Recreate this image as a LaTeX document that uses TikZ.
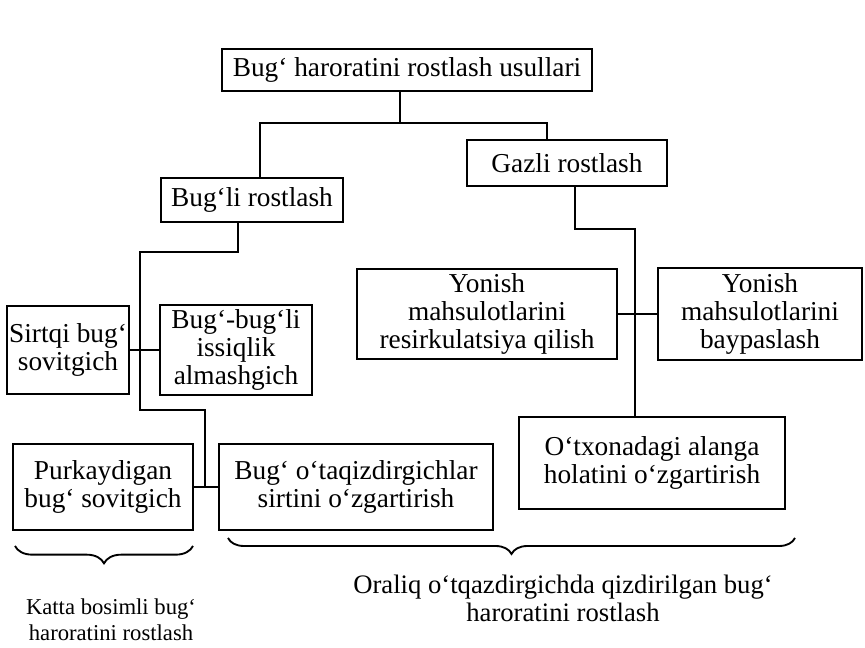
\documentclass[tikz,border=0pt]{standalone}
\usepackage{fontspec}
\setmainfont{Liberation Serif}
\usetikzlibrary{decorations.pathreplacing}

\tikzset{
  blok/.style={draw, line width=1.4pt, align=center, inner sep=1.5pt,
    font=\fontsize{20.5}{21}\selectfont},
  ulash/.style={line width=1.4pt},
  qavs/.style={line width=1.4pt, decorate, decoration={brace, mirror, amplitude=#1}},
  izoh/.style={align=center, inner sep=0pt}
}

\begin{document}
\begin{tikzpicture}[x=0.75pt,y=0.75pt,yscale=-1,xscale=1]
\useasboundingbox (0,0) rectangle (865,648);

% Nodes
\node [blok, minimum width=277.5pt, minimum height=31.5pt] (root) at (407,70) {Bug‘ haroratini rostlash usullari};
\node [blok, minimum width=137pt, minimum height=33pt] (bugli) at (252,200) {Bug‘li rostlash};
\node [blok, minimum width=150pt, minimum height=34pt] (gazli) at (567,163) {Gazli rostlash};
\node [blok, minimum width=82.5pt, minimum height=66pt] (sirtqi) at (68,350) {Sirtqi bug‘\\ sovitgich};
\node [blok, minimum width=114pt, minimum height=67.5pt] (bugbug) at (236,350) {Bug‘-bug‘li\\ issiqlik\\ almashgich};
\node [blok, minimum width=195pt, minimum height=67.5pt] (resirk) at (487,314) {Yonish\\ mahsulotlarini\\ resirkulatsiya qilish};
\node [blok, minimum width=153pt, minimum height=69pt] (baypas) at (760,314) {Yonish\\ mahsulotlarini\\ baypaslash};
\node [blok, minimum width=135pt, minimum height=64pt] (purka) at (103,487) {Purkaydigan\\ bug‘ sovitgich};
\node [blok, minimum width=205pt, minimum height=64.5pt] (sirtini) at (356,487) {Bug‘ o‘taqizdirgichlar\\ sirtini o‘zgartirish};
\node [blok, minimum width=199pt, minimum height=69pt] (otxona) at (652,463) {O‘txonadagi alanga\\ holatini o‘zgartirish};

% Connectors
\draw [ulash] ([xshift=-5.25pt]root.south) -- ++(0,31) coordinate (rsplit);
\draw [ulash] ([xshift=6pt]bugli.north) |- (rsplit) -| ([xshift=-15pt]gazli.north);

\coordinate (bk1) at (140,252);
\coordinate (bk2) at (140,410);
\coordinate (bk3) at (205,410);
\draw [ulash] ([xshift=-10.5pt]bugli.south) |- (bk1) -- (bk2) -- (bk3) -- (bk3 |- purka.east);
\draw [ulash] (sirtqi) -- (bugbug);
\draw [ulash] (purka) -- (sirtini);

\draw [ulash] ([xshift=6pt]gazli.south) -- ++(0,42.5) -| ([xshift=-12.75pt]otxona.north);
\draw [ulash] (resirk) -- (baypas);

% Braces
\draw [qavs=13pt] (15,546) -- (193,546);
\draw [qavs=12pt] (228,538) -- (795,538);

% Text Node
\node [izoh, font=\fontsize{17}{19.5}\selectfont] (katta) at (111,620) {Katta bosimli bug‘\\ haroratini rostlash};
% Text Node
\node [izoh, font=\fontsize{20}{21}\selectfont] (oraliq) at (563,598) {Oraliq o‘tqazdirgichda qizdirilgan bug‘\\ haroratini rostlash};

\end{tikzpicture}
\end{document}
